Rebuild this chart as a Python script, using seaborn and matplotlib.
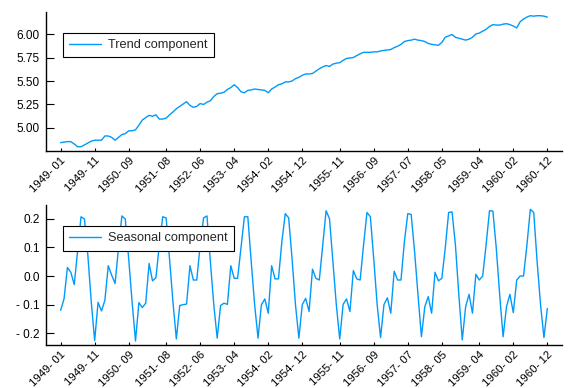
# Trend / seasonal decomposition of log air passengers, 1949-1960
import numpy as np
import pandas as pd
import matplotlib
matplotlib.use("Agg")
import matplotlib.pyplot as plt
import seaborn as sns

# ==========================================================
# Data
# ==========================================================

months = [str(p).replace("-", "- ") for p in pd.period_range("1949-01", "1960-12", freq="M")]

trend = [
    4.844, 4.850, 4.855, 4.855, 4.830, 4.800, 4.800, 4.820, 4.840, 4.860, 4.870, 4.870,
    4.870, 4.915, 4.915, 4.900, 4.870, 4.900, 4.930, 4.940, 4.970, 4.970, 4.980, 5.030,
    5.085, 5.110, 5.135, 5.125, 5.140, 5.095, 5.095, 5.105, 5.140, 5.170, 5.205, 5.230,
    5.255, 5.280, 5.240, 5.220, 5.230, 5.260, 5.250, 5.275, 5.290, 5.335, 5.365, 5.370,
    5.380, 5.410, 5.430, 5.460, 5.430, 5.385, 5.375, 5.400, 5.405, 5.415, 5.410, 5.405,
    5.400, 5.375, 5.415, 5.435, 5.460, 5.470, 5.490, 5.490, 5.500, 5.525, 5.540, 5.560,
    5.575, 5.575, 5.580, 5.605, 5.630, 5.650, 5.665, 5.655, 5.680, 5.690, 5.695, 5.720,
    5.740, 5.745, 5.750, 5.770, 5.790, 5.805, 5.805, 5.805, 5.810, 5.810, 5.820, 5.825,
    5.830, 5.835, 5.855, 5.870, 5.890, 5.920, 5.930, 5.935, 5.945, 5.935, 5.930, 5.920,
    5.900, 5.890, 5.885, 5.880, 5.910, 5.965, 5.980, 5.995, 5.965, 5.955, 5.945, 5.935,
    5.945, 5.965, 6.000, 6.010, 6.030, 6.050, 6.080, 6.100, 6.095, 6.095, 6.105, 6.110,
    6.100, 6.085, 6.065, 6.130, 6.160, 6.180, 6.195, 6.190, 6.195, 6.195, 6.190, 6.180,
]

seasonal = [
    -0.120, -0.080, 0.030, 0.013, -0.030, 0.090, 0.207, 0.199, 0.073, -0.090, -0.226, -0.092,
    -0.122, -0.085, 0.036, 0.003, -0.026, 0.097, 0.210, 0.199, 0.060, -0.090, -0.227, -0.093,
    -0.110, -0.095, 0.044, -0.017, -0.006, 0.108, 0.207, 0.203, 0.060, -0.090, -0.220, -0.103,
    -0.100, -0.098, 0.036, -0.014, -0.014, 0.108, 0.203, 0.210, 0.050, -0.100, -0.217, -0.103,
    -0.095, -0.099, 0.036, -0.008, -0.008, 0.100, 0.207, 0.207, 0.050, -0.100, -0.217, -0.100,
    -0.080, -0.130, 0.036, -0.010, -0.010, 0.120, 0.218, 0.203, 0.060, -0.100, -0.217, -0.100,
    -0.078, -0.124, 0.024, -0.008, -0.014, 0.108, 0.228, 0.200, 0.050, -0.100, -0.220, -0.099,
    -0.080, -0.124, 0.019, -0.010, -0.014, 0.108, 0.222, 0.207, 0.060, -0.100, -0.215, -0.100,
    -0.076, -0.130, 0.017, -0.014, -0.014, 0.120, 0.218, 0.215, 0.085, -0.066, -0.212, -0.107,
    -0.072, -0.130, 0.013, -0.017, -0.008, 0.097, 0.222, 0.224, 0.108, -0.066, -0.223, -0.107,
    -0.064, -0.130, 0.006, -0.014, 0.000, 0.108, 0.228, 0.227, 0.097, -0.066, -0.212, -0.107,
    -0.064, -0.128, -0.014, 0.000, 0.000, 0.108, 0.233, 0.222, 0.050, -0.100, -0.215, -0.113,
]

tick_labels = ["1949- 01", "1949- 11", "1950- 09", "1951- 08", "1952- 06",
               "1953- 04", "1954- 02", "1954- 12", "1955- 11", "1956- 09",
               "1957- 07", "1958- 05", "1959- 04", "1960- 02", "1960- 12"]

trend_ticks = [5.00, 5.25, 5.50, 5.75, 6.00]
seasonal_ticks = [-0.2, -0.1, 0.0, 0.1, 0.2]
seasonal_tick_labels = ["- 0.2", "- 0.1", "0.0", "0.1", "0.2"]

df = pd.DataFrame({"t": np.arange(len(months)), "trend": trend, "seasonal": seasonal})
tick_pos = [months.index(lab) for lab in tick_labels]

# ==========================================================
# Plot
# ==========================================================

sns.set_style("ticks")
plt.rcParams["font.family"] = ["Liberation Sans", "DejaVu Sans"]

blue = "#009AFA"
fig = plt.figure(figsize=(5.81, 3.88), dpi=100)
ax1 = fig.add_axes([0.0792, 0.6108, 0.888, 0.3582])
ax2 = fig.add_axes([0.0792, 0.1108, 0.888, 0.3608])

sns.lineplot(data=df, x="t", y="trend", ax=ax1, color=blue, linewidth=1,
             label="Trend component")
sns.lineplot(data=df, x="t", y="seasonal", ax=ax2, color=blue, linewidth=1,
             label="Seasonal component")

pad = 0.03 * (len(months) - 1)
for ax, yl, yt, ytl in [
    (ax1, (4.755, 6.234), trend_ticks, [f"{v:.2f}" for v in trend_ticks]),
    (ax2, (-0.241, 0.248), seasonal_ticks, seasonal_tick_labels),
]:
    ax.set_xlim(-pad, len(months) - 1 + pad)
    ax.set_ylim(*yl)
    ax.set_yticks(yt)
    ax.set_yticklabels(ytl, fontsize=8.5)
    ax.set_xticks(tick_pos)
    ax.set_xticklabels(tick_labels, rotation=45, ha="right", rotation_mode="anchor",
                       fontsize=8.2)
    ax.set_xlabel("")
    ax.set_ylabel("")
    sns.despine(ax=ax)
    for s in ["left", "bottom"]:
        ax.spines[s].set_color("black")
        ax.spines[s].set_linewidth(1)
    ax.tick_params(axis="both", direction="in", width=0.8, colors="black")
    ax.tick_params(axis="y", length=5.5, pad=4.5)
    ax.tick_params(axis="x", length=2.5, pad=3)
    leg = ax.legend(loc="upper left", bbox_to_anchor=(0.033, 0.852), borderaxespad=0,
                    fontsize=9.2, handlelength=2.5, handletextpad=0.5, borderpad=0.5,
                    fancybox=False, framealpha=1, edgecolor="black")
    leg.get_frame().set_linewidth(0.8)

fig.savefig("out.png", dpi=100)
